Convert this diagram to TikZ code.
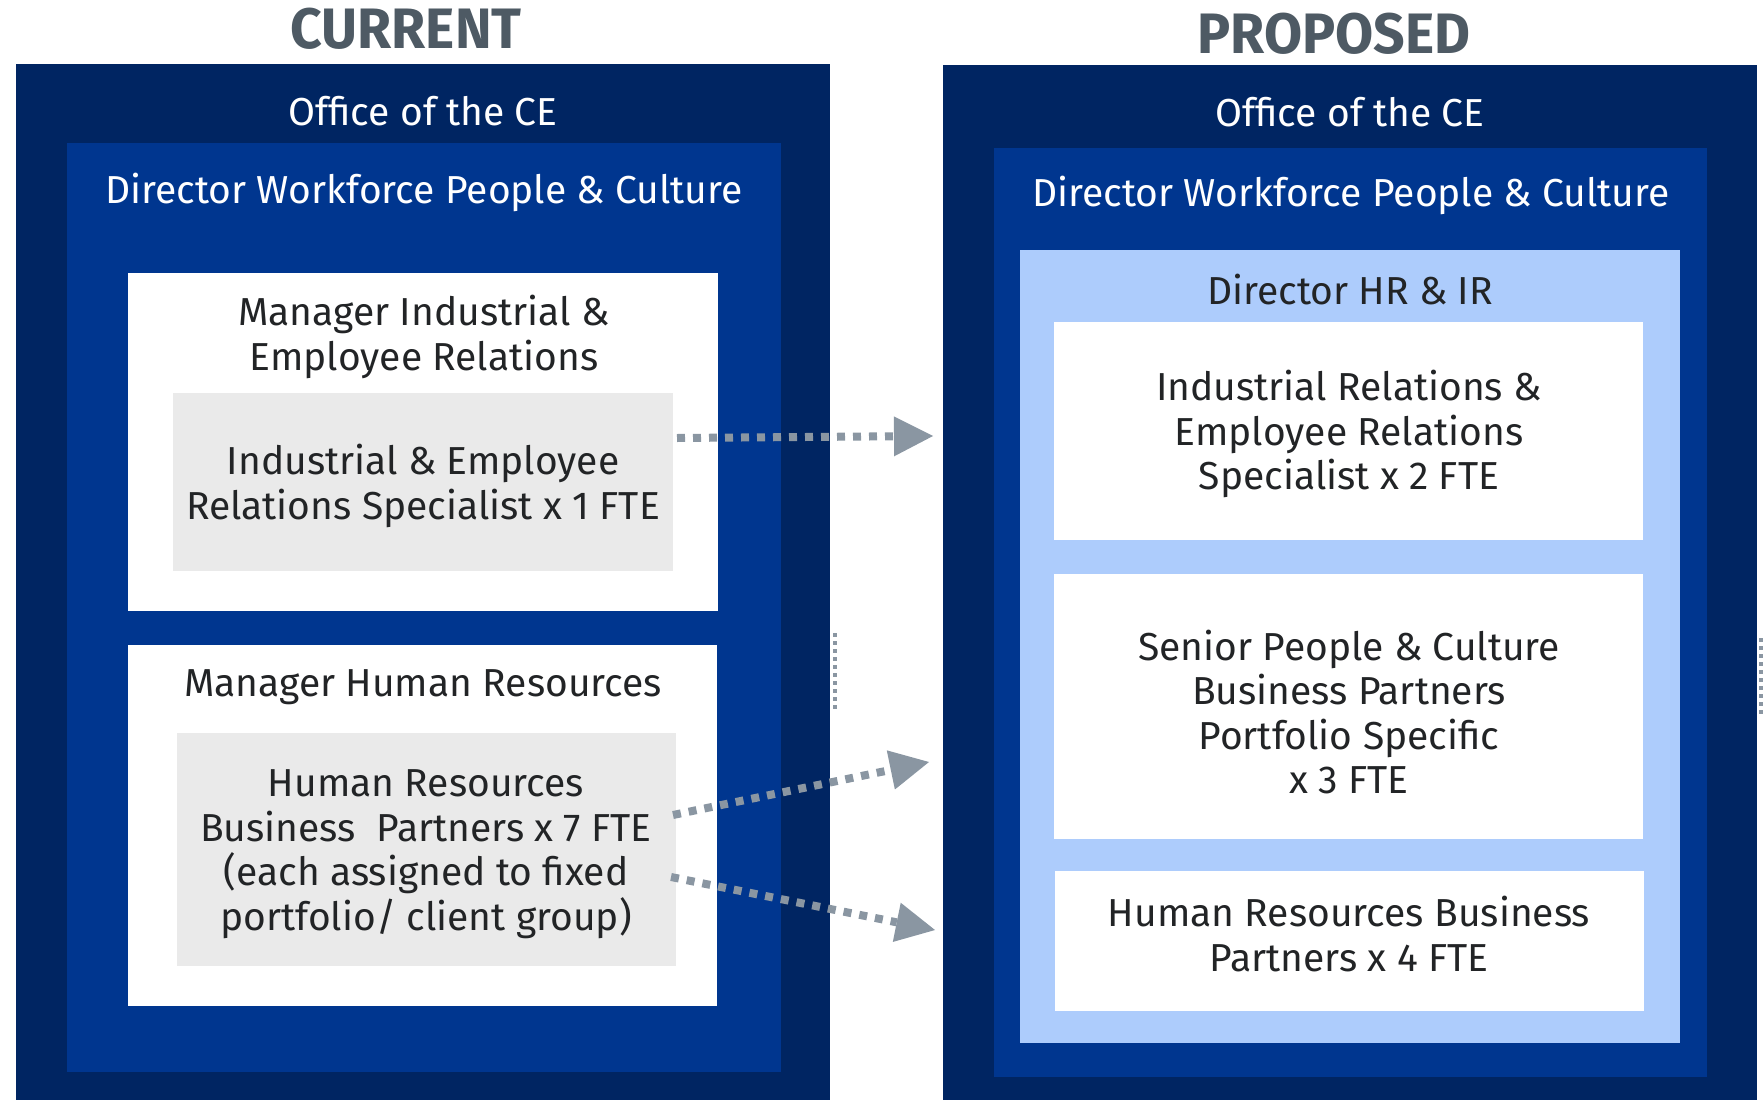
\documentclass[tikz,border=0pt]{standalone}
\usepackage{fontspec}
\setmainfont{Fira Sans}
\newfontfamily\headfont[FakeStretch=0.97]{Fira Sans}
\usetikzlibrary{arrows.meta}
\definecolor{navy}{HTML}{002562}
\definecolor{midblue}{HTML}{00368F}
\definecolor{lightblue}{HTML}{ADCCFC}
\definecolor{graybox}{HTML}{EAEAEA}
\definecolor{txt}{HTML}{222426}
\definecolor{titlec}{HTML}{4E5A64}
\definecolor{arrowc}{HTML}{8A96A2}
\tikzset{
  box/.style={inner sep=0pt, outer sep=0pt, anchor=north west, draw=none},
  wlbl/.style={text=white, font=\fontsize{39}{44.5}\selectfont, align=center, inner sep=0pt},
  blbl/.style={text=txt, font=\fontsize{39}{44.5}\selectfont, align=center, inner sep=0pt},
  hdr/.style={text=titlec, font=\headfont\bfseries\fontsize{57}{62}\selectfont, inner sep=0pt},
  flow/.style={draw=arrowc, line width=8pt, dash pattern=on 8pt off 8pt,
     -{Triangle[length=39pt,width=40pt,line width=0pt]}},
  thindots/.style={draw=arrowc, line width=3.5pt, dash pattern=on 3.5pt off 4.5pt}
}
\begin{document}
\begin{tikzpicture}[x=1pt,y=-1pt]
\useasboundingbox (0,0) rectangle (1764,1100);
% CURRENT panel
\node[box, fill=navy, minimum width=814pt, minimum height=1036pt] (Louter) at (16,64) {};
\node[box, fill=midblue, minimum width=714pt, minimum height=929pt] (Lmid) at (67,143) {};
\node[box, fill=white, minimum width=590pt, minimum height=338pt] (Ltop) at (128,273) {};
\node[box, fill=graybox, minimum width=500pt, minimum height=178pt] (Ltopg) at (173,393) {};
\node[box, fill=white, minimum width=589pt, minimum height=361pt] (Lbot) at (128,645) {};
\node[box, fill=graybox, minimum width=499pt, minimum height=233pt] (Lbotg) at (177,733) {};
% PROPOSED panel
\node[box, fill=navy, minimum width=814pt, minimum height=1035pt] (Router) at (943,65) {};
\node[box, fill=midblue, minimum width=713pt, minimum height=929pt] (Rmid) at (994,148) {};
\node[box, fill=lightblue, minimum width=660pt, minimum height=793pt] (Rlb) at (1020,250) {};
\node[box, fill=white, minimum width=589pt, minimum height=218pt] (R1) at (1054,322) {};
\node[box, fill=white, minimum width=589pt, minimum height=265pt] (R2) at (1054,574) {};
\node[box, fill=white, minimum width=589pt, minimum height=140pt] (R3) at (1055,871) {};
% headers
\node[hdr] (hC) at (406,29) {CURRENT};
\node[hdr] (hP) at (1334,34) {PROPOSED};
% texts
\node[wlbl] (tL1) at (423,111) {Office of the CE};
\node[wlbl] (tL2) at (424,192) {Director Workforce People \& Culture};
\node[blbl] (tL3) at (424,337) {Manager Industrial \&\\Employee Relations};
\node[blbl] (tL4) at (423,486) {Industrial \& Employee\\Relations Specialist x 1 FTE};
\node[blbl] (tL5) at (423,687) {Manager Human Resources};
\node[blbl] (tL6) at (426,854) {Human Resources\\Business\ \ Partners x 7 FTE\\(each assigned to fixed\\portfolio/ client group)};
\node[wlbl] (tR1) at (1350,112) {Office of the CE};
\node[wlbl] (tR2) at (1351,195) {Director Workforce People \& Culture};
\node[blbl] (tR3) at (1350,290) {Director HR \& IR};
\node[blbl] (tR4) at (1349,434) {Industrial Relations \&\\Employee Relations\\Specialist x 2 FTE};
\node[blbl] (tR5) at (1349,712) {Senior People \& Culture\\Business Partners\\Portfolio Specific\\x 3 FTE};
\node[blbl] (tR6) at (1349,934) {Human Resources Business\\Partners x 4 FTE};
% connectors
\coordinate (a1s) at (677,438);
\coordinate (a1e) at (933,436);
\coordinate (a2s) at (673,815);
\coordinate (a2e) at (929,762);
\coordinate (a3s) at (671,877);
\coordinate (a3e) at (935,930);
\draw[flow] (a1s) -- (a1e);
\draw[flow] (a2s) -- (a2e);
\draw[flow] (a3s) -- (a3e);
\coordinate (d1s) at (835,633);
\coordinate (d1e) at (835,710);
\coordinate (d2s) at (1761,638);
\coordinate (d2e) at (1761,714);
\draw[thindots] (d1s) -- (d1e);
\draw[thindots] (d2s) -- (d2e);
\end{tikzpicture}
\end{document}
